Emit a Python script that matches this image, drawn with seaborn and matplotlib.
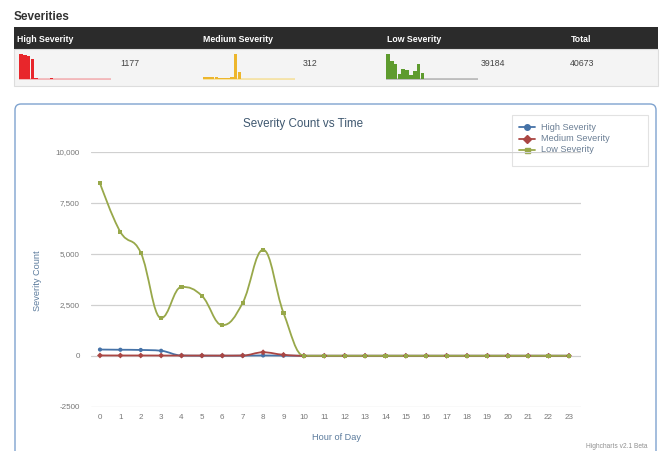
import numpy as np
import pandas as pd
import matplotlib
matplotlib.use("Agg")
import matplotlib.pyplot as plt
from matplotlib.path import Path
from matplotlib.patches import PathPatch, Rectangle, FancyBboxPatch
from matplotlib.lines import Line2D
import seaborn as sns

# ---- data -----------------------------------------------------------------
hours = list(range(24))
high_counts = [305, 295, 285, 245, 12, 4, 3, 6, 15, 7] + [0] * 14
medium_counts = [16, 14, 14, 12, 10, 10, 8, 12, 170, 46] + [0] * 14
low_counts = [8470, 6080, 5060, 1850, 3380, 2940, 1500, 2600, 5200, 2104] + [0] * 14

series_names = ["High Severity", "Medium Severity", "Low Severity"]
summary_headers = ["High Severity", "Medium Severity", "Low Severity", "Total"]
y_ticks = [-2500, 0, 2500, 5000, 7500, 10000]
y_tick_labels = ["-2500", "0", "2,500", "5,000", "7,500", "10,000"]

totals = [sum(high_counts), sum(medium_counts), sum(low_counts)]
grand_total = sum(totals)

line_colors = ["#4572A7", "#AA4643", "#98A84A"]
line_markers = ["o", "D", "s"]
spark_colors = ["#E8262B", "#EDB62C", "#5E9B2E"]
spark_base = ["#F2B8BA", "#F5E3A8", "#BDBDBD"]

W, H = 662, 451
sns.set_theme(style="white")
plt.rcParams["font.family"] = ["Liberation Sans", "DejaVu Sans"]

fig = plt.figure(figsize=(W / 100, H / 100), dpi=100)
fig.patch.set_facecolor("white")


def fbox(x0, y0, x1, y1):
    """pixel box (top-left origin) -> figure fraction rect"""
    return [x0 / W, 1 - y1 / H, (x1 - x0) / W, (y1 - y0) / H]


# ---- page layer in pixel coordinates ---------------------------------------
page = fig.add_axes([0, 0, 1, 1], zorder=0)
page.set_xlim(0, W)
page.set_ylim(H, 0)
page.axis("off")

page.text(14, 17, "Severities", fontsize=8.5, fontweight="bold", color="#333333",
          va="center", ha="left")
page.add_patch(Rectangle((14, 27), 644, 22, facecolor="#2B2B2B", edgecolor="none"))
page.add_patch(Rectangle((14, 49), 644, 37, facecolor="#F4F4F4", edgecolor="#DDDDDD", lw=0.8))

col_x = [17, 203, 387, 571]
for cx, name in zip(col_x, summary_headers):
    page.text(cx, 39, name, fontsize=6.3, fontweight="bold", color="white",
              va="center", ha="left")

value_x = [120, 303, 481, 570]
for vx, v in zip(value_x, totals + [grand_total]):
    page.text(vx, 64, f"{v}", fontsize=6.3, color="#444444", va="center", ha="left")

# chart container
page.add_patch(FancyBboxPatch((15, 104), 641, 370, boxstyle="round,pad=0,rounding_size=6",
                              facecolor="white", edgecolor="#7FA3CF", lw=1.0))

page.text(303, 124, "Severity Count vs Time", fontsize=8.4, color="#3E576F",
          va="center", ha="center")
page.text(38, 281, "Severity Count", fontsize=6.6, color="#5A7A9C", rotation=90,
          va="center", ha="center")
page.text(336, 437, "Hour of Day", fontsize=6.6, color="#5A7A9C", va="center", ha="center")
page.text(648, 447, "Highcharts v2.1 Beta", fontsize=4.8, color="#909090",
          va="center", ha="right")

# legend box
page.add_patch(Rectangle((512, 115), 136, 51, facecolor="white", edgecolor="#E2E2E2", lw=0.8))
for i, name in enumerate(series_names):
    yy = 127 + i * 11.5
    page.add_line(Line2D([519, 535], [yy, yy], color=line_colors[i], lw=1.3))
    page.plot([527], [yy], marker=line_markers[i], color=line_colors[i], ms=3.6 if i else 4,
              mec=line_colors[i])
    page.text(541, yy, name, fontsize=6.6, color="#6B7F95", va="center", ha="left")

# ---- sparklines --------------------------------------------------------------
spark_boxes = [(19, 111), (203, 295), (386, 478)]
for i, (counts, (sx0, sx1)) in enumerate(zip([high_counts, medium_counts, low_counts], spark_boxes)):
    sax = fig.add_axes(fbox(sx0, 54, sx1, 80), zorder=2)
    sdf = pd.DataFrame({"hour": hours, "count": counts})
    sax.axhline(0, color=spark_base[i], lw=2.0, zorder=0)
    sns.barplot(data=sdf, x="hour", y="count", color=spark_colors[i], width=0.92,
                saturation=1, linewidth=0, ax=sax, zorder=2)
    sax.set_xlim(-0.5, 23.5)
    sax.set_ylim(-max(counts) * 0.03, max(counts) * 1.0)
    sax.axis("off")
    sax.patch.set_alpha(0)

# ---- main chart ----------------------------------------------------------------
ax = fig.add_axes(fbox(91, 152, 581, 406.7), zorder=3)
ax.patch.set_alpha(0)

df = pd.DataFrame({
    "hour": hours * 3,
    "count": high_counts + medium_counts + low_counts,
    "series": sum([[n] * 24 for n in series_names], []),
})


def spline_path(xs, ys, smoothing=1.5):
    """Bezier path through the points with Highcharts-style spline control points."""
    n = len(xs)
    denom = smoothing + 1
    left = [None] * n
    right = [None] * n
    for i in range(1, n - 1):
        px, py = xs[i], ys[i]
        lx, ly = xs[i - 1], ys[i - 1]
        nx, ny = xs[i + 1], ys[i + 1]
        lcx = (smoothing * px + lx) / denom
        lcy = (smoothing * py + ly) / denom
        rcx = (smoothing * px + nx) / denom
        rcy = (smoothing * py + ny) / denom
        corr = ((rcy - lcy) * (rcx - px)) / (rcx - lcx) + py - rcy
        lcy += corr
        rcy += corr
        if lcy > ly and lcy > py:
            lcy = max(ly, py)
            rcy = 2 * py - lcy
        elif lcy < ly and lcy < py:
            lcy = min(ly, py)
            rcy = 2 * py - lcy
        if rcy > ny and rcy > py:
            rcy = max(ny, py)
            lcy = 2 * py - rcy
        elif rcy < ny and rcy < py:
            rcy = min(ny, py)
            lcy = 2 * py - rcy
        left[i] = (lcx, lcy)
        right[i] = (rcx, rcy)
    verts = [(xs[0], ys[0])]
    codes = [Path.MOVETO]
    for i in range(1, n):
        c1 = right[i - 1] if right[i - 1] is not None else (xs[i - 1], ys[i - 1])
        c2 = left[i] if left[i] is not None else (xs[i], ys[i])
        verts += [c1, c2, (xs[i], ys[i])]
        codes += [Path.CURVE4] * 3
    return Path(verts, codes)


for i, name in enumerate(series_names):
    sub = df[df["series"] == name]
    ax.add_patch(PathPatch(spline_path(sub["hour"].tolist(), sub["count"].tolist()),
                           fill=False, edgecolor=line_colors[i], lw=1.3, zorder=3 + i))

sns.scatterplot(data=df, x="hour", y="count", hue="series", style="series",
                palette=dict(zip(series_names, line_colors)),
                markers=dict(zip(series_names, line_markers)),
                s=9, linewidth=0, legend=False, ax=ax, zorder=7)

ax.set_xlim(-0.44, 23.59)
ax.set_ylim(-2500, 10000)
ax.set_yticks(y_ticks)
ax.set_yticklabels(y_tick_labels)
ax.set_xticks(hours)
ax.set_xticklabels([str(h) for h in hours])
ax.grid(axis="y", color="#D0D0D0", lw=0.9)
ax.grid(axis="x", visible=False)
ax.set_axisbelow(True)
for side in ["top", "right", "left", "bottom"]:
    ax.spines[side].set_visible(False)
ax.tick_params(axis="both", length=0, labelsize=5.8, colors="#777777")
ax.tick_params(axis="y", pad=8)
ax.tick_params(axis="x", pad=5)
ax.set_xlabel("")
ax.set_ylabel("")

fig.savefig("out.png", dpi=100, facecolor="white")
